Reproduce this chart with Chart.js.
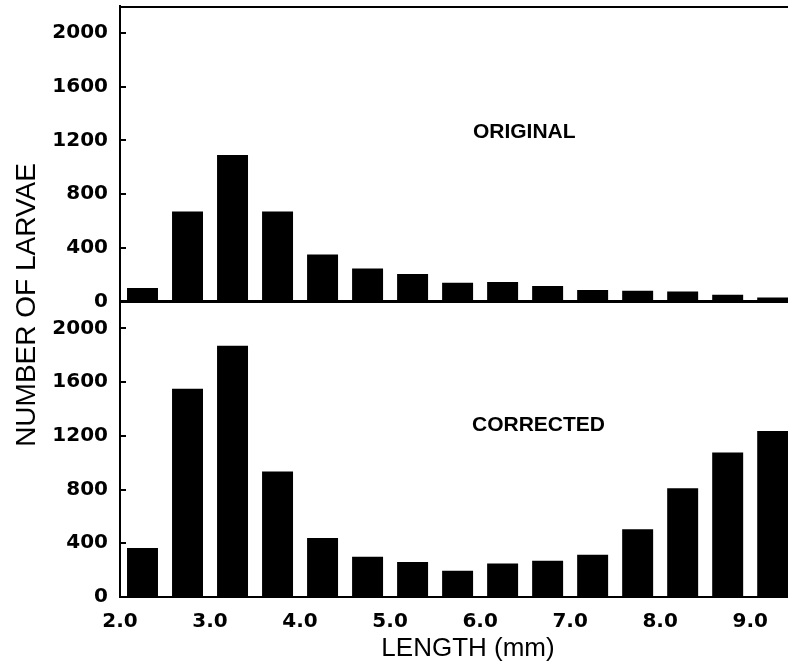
<!DOCTYPE html>
<html>
<head>
<meta charset="utf-8">
<script src="https://cdn.jsdelivr.net/npm/chart.js@4.4.1/dist/chart.umd.min.js"></script>
<style>
  html, body { margin: 0; padding: 0; background: #fff; }
  #wrap { position: relative; width: 788px; height: 672px; }
</style>
</head>
<body>
<div id="wrap"><canvas id="larvae" width="788" height="672"></canvas></div>
<script>
// length classes (bin centres, mm)
const lengths = [2.25, 2.75, 3.25, 3.75, 4.25, 4.75, 5.25, 5.75, 6.25, 6.75, 7.25, 7.75, 8.25, 8.75, 9.25];
// number of larvae per class
const original = [100, 670, 1090, 670, 350, 245, 205, 140, 145, 115, 85, 80, 75, 50, 30];
const corrected = [365, 1550, 1870, 935, 440, 300, 260, 195, 250, 270, 315, 505, 810, 1075, 1235];
// ticks
const xTicks = [2, 3, 4, 5, 6, 7, 8, 9];
const yTickLabels = [0, 400, 800, 1200, 1600, 2000];
const panelLabels = ['ORIGINAL', 'CORRECTED'];

const tickFont = { family: '"DejaVu Sans", sans-serif', size: 20, weight: 'bold' };

function yScale() {
  return {
    type: 'linear',
    position: 'left',
    stack: 'panels',
    stackWeight: 1,
    min: 0,
    max: 2200,
    border: { display: true, color: '#000', width: 2 },
    grid: { display: true, drawOnChartArea: false, drawTicks: true, tickLength: -6, color: '#000', lineWidth: 2 },
    ticks: {
      stepSize: 200,
      padding: 18,
      color: '#000',
      font: tickFont,
      callback: v => yTickLabels.includes(v) ? String(v) : ''
    },
    afterFit: s => { s.width = 120; s.paddingTop = 0; s.paddingBottom = 0; }
  };
}

// frame lines, panel names and axis titles
const decor = {
  id: 'decor',
  afterDraw(chart) {
    const { ctx, chartArea: a, scales } = chart;
    ctx.save();
    ctx.strokeStyle = '#000';
    ctx.lineWidth = 2;
    ctx.beginPath();
    ctx.moveTo(a.left, a.top + 1);
    ctx.lineTo(a.right, a.top + 1);
    ctx.stroke();
    const mid = scales.yTop.getPixelForValue(0);
    ctx.lineWidth = 3;
    ctx.beginPath();
    ctx.moveTo(a.left, mid);
    ctx.lineTo(a.right, mid);
    ctx.stroke();

    ctx.fillStyle = '#000';
    ctx.textBaseline = 'middle';
    ctx.textAlign = 'left';
    ctx.font = 'bold 21px "Liberation Sans", Arial, sans-serif';
    ctx.fillText(panelLabels[0], scales.x.getPixelForValue(5.92), scales.yTop.getPixelForValue(1260));
    ctx.fillText(panelLabels[1], scales.x.getPixelForValue(5.91), scales.yBot.getPixelForValue(1280));

    ctx.font = '26px "Liberation Sans", Arial, sans-serif';
    ctx.textAlign = 'center';
    ctx.fillText('LENGTH (mm)', 468, 649);

    ctx.font = '28px "Liberation Sans", Arial, sans-serif';
    ctx.translate(27, 305);
    ctx.rotate(-Math.PI / 2);
    ctx.fillText('NUMBER OF LARVAE', 0, 0);
    ctx.restore();
  }
};

new Chart(document.getElementById('larvae'), {
  type: 'bar',
  data: {
    datasets: [{
      label: panelLabels[0],
      data: lengths.map((x, i) => ({ x: x, y: original[i] })),
      yAxisID: 'yTop',
      backgroundColor: '#000',
      grouped: false,
      barPercentage: 0.86,
      categoryPercentage: 0.8
    }, {
      label: panelLabels[1],
      data: lengths.map((x, i) => ({ x: x, y: corrected[i] })),
      yAxisID: 'yBot',
      backgroundColor: '#000',
      grouped: false,
      barPercentage: 0.86,
      categoryPercentage: 0.8
    }]
  },
  options: {
    responsive: false,
    animation: false,
    devicePixelRatio: 1,
    layout: { padding: { top: 6, left: 0, right: 0, bottom: 0 } },
    plugins: { legend: { display: false }, tooltip: { enabled: false } },
    scales: {
      x: {
        type: 'linear',
        min: 2,
        max: 9.42,
        offset: false,
        grid: { display: false, offset: false },
        border: { display: true, color: '#000', width: 2 },
        ticks: {
          padding: 5,
          color: '#000',
          font: tickFont,
          maxRotation: 0,
          autoSkip: false,
          callback: v => v.toFixed(1)
        },
        afterBuildTicks: s => { s.ticks = xTicks.map(v => ({ value: v })); },
        afterFit: s => { s.height = 75; }
      },
      // bottom panel listed first: the layout stacks left scales in reverse order
      yBot: yScale(),
      yTop: yScale()
    }
  },
  plugins: [decor]
});
</script>
</body>
</html>
